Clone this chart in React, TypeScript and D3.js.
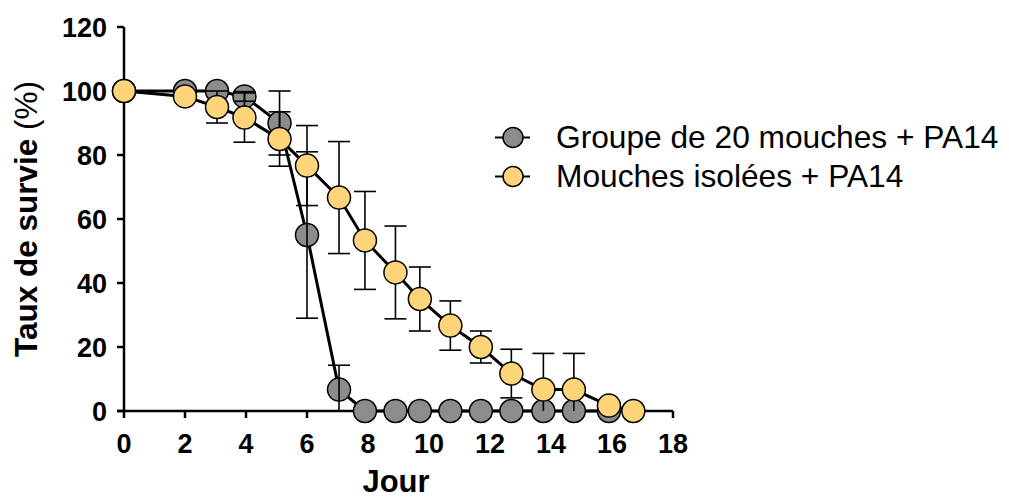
import React from "react";
import * as d3 from "d3";

const days = [0, 2.0, 3.05, 3.95, 5.1, 6.0, 7.05, 7.9, 8.9, 9.7, 10.7, 11.7, 12.7, 13.75, 14.75, 15.9, 16.7];
const groupValues = [100, 100, 100, 98.3, 90, 55, 6.7, 0, 0, 0, 0, 0, 0, 0, 0, 0];
const groupErrors = [0, 0, 0, 1.5, 10, 26, 7.6, 0, 0, 0, 0, 0, 0, 0, 0, 0];
const isolatedValues = [100, 98.3, 95, 91.7, 85, 76.7, 66.7, 53.3, 43.3, 35, 26.7, 20, 11.7, 6.7, 6.7, 1.7, 0];
const isolatedErrors = [0, 1, 5, 7.7, 8.5, 12.5, 17.5, 15.3, 14.5, 10, 7.7, 5, 7.6, 11.3, 11.3, 0, 0];
const xTicks = [0, 2, 4, 6, 8, 10, 12, 14, 16, 18];
const yTicks = [0, 20, 40, 60, 80, 100, 120];
const seriesNames = ["Groupe de 20 mouches + PA14", "Mouches isolées + PA14"];
const seriesColors = ["#8c8c8c", "#fed47b"];

type Pt = { x: number; y: number; e: number };

export default function App() {
  const x = d3.scaleLinear().domain([0, 18]).range([124, 673]);
  const y = d3.scaleLinear().domain([0, 120]).range([411, 27]);
  const line = d3.line<Pt>().x((d) => x(d.x)).y((d) => y(d.y));
  const font = "Arial, 'Liberation Sans', sans-serif";

  const group: Pt[] = groupValues.map((v, i) => ({ x: days[i], y: v, e: groupErrors[i] }));
  const iso: Pt[] = isolatedValues.map((v, i) => ({ x: days[i], y: v, e: isolatedErrors[i] }));

  const errBars = (pts: Pt[], key: string) =>
    pts
      .filter((p) => p.e > 0)
      .map((p, i) => {
        const cx = x(p.x);
        const top = y(p.y + p.e);
        const bot = y(Math.max(0, p.y - p.e));
        return (
          <g key={key + i} stroke="#000" strokeWidth={1.6}>
            <line x1={cx} x2={cx} y1={top} y2={bot} />
            <line x1={cx - 11} x2={cx + 11} y1={top} y2={top} />
            {p.y - p.e > 0 && <line x1={cx - 11} x2={cx + 11} y1={bot} y2={bot} />}
          </g>
        );
      });

  const markers = (pts: Pt[], color: string, key: string) =>
    pts.map((p, i) => (
      <circle key={key + i} cx={x(p.x)} cy={y(p.y)} r={11.5} fill={color} stroke="#000" strokeWidth={1.5} />
    ));

  return (
    <svg width={1009} height={500} style={{ position: "absolute", left: 0, top: 0, background: "#fff" }}>
      {/* axes */}
      <g stroke="#000" strokeWidth={2.5}>
        <line x1={124} x2={124} y1={y(120)} y2={y(0)} />
        <line x1={117} x2={x(18)} y1={y(0)} y2={y(0)} />
        {yTicks.map((t) => (
          <line key={"yt" + t} x1={117} x2={124} y1={y(t)} y2={y(t)} />
        ))}
        {xTicks.map((t) => (
          <line key={"xt" + t} x1={x(t)} x2={x(t)} y1={y(0)} y2={y(0) + 7} />
        ))}
      </g>
      {yTicks.map((t) => (
        <text key={"yl" + t} x={107} y={y(t) + 9.5} textAnchor="end" fontFamily={font} fontWeight="bold" fontSize={27}>
          {t}
        </text>
      ))}
      {xTicks.map((t) => (
        <text key={"xl" + t} x={x(t)} y={453} textAnchor="middle" fontFamily={font} fontWeight="bold" fontSize={27}>
          {t}
        </text>
      ))}
      <text x={396} y={492} textAnchor="middle" fontFamily={font} fontWeight="bold" fontSize={31}>
        Jour
      </text>
      <text transform="translate(37,219) rotate(-90)" textAnchor="middle" fontFamily={font} fontSize={31.5}>
        <tspan fontWeight="bold">Taux de survie</tspan>
        <tspan> (%)</tspan>
      </text>

      {/* group series */}
      <path d={line(group) || ""} fill="none" stroke="#000" strokeWidth={3} />
      {markers(group, seriesColors[0], "g")}
      {errBars(group, "ge")}

      {/* isolated series */}
      {errBars(iso, "ie")}
      <path d={line(iso) || ""} fill="none" stroke="#000" strokeWidth={3} />
      {markers(iso, seriesColors[1], "i")}

      {/* legend */}
      {seriesNames.map((name, i) => {
        const ly = 137.5 + i * 39;
        return (
          <g key={"lg" + i}>
            <line x1={495} x2={530} y1={ly} y2={ly} stroke="#000" strokeWidth={2} />
            <circle cx={513} cy={ly} r={10} fill={seriesColors[i]} stroke="#000" strokeWidth={1.5} />
            <text x={556} y={ly + 10.5} fontFamily={font} fontSize={31.7}>
              {name}
            </text>
          </g>
        );
      })}
    </svg>
  );
}
